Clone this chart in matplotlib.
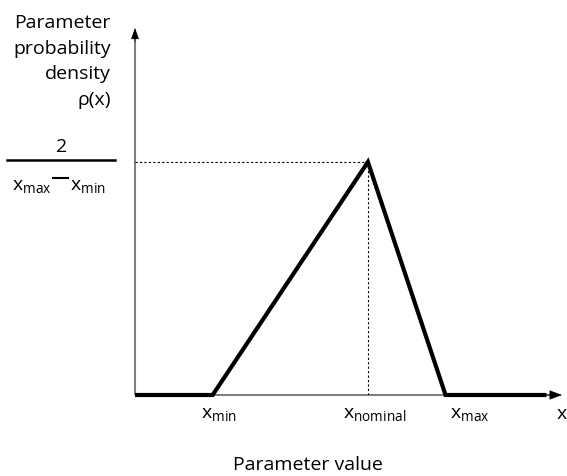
import matplotlib
matplotlib.use("Agg")
import matplotlib.pyplot as plt
from matplotlib.lines import Line2D

plt.rcParams['font.family'] = ['Open Sans', 'DejaVu Sans']
plt.rcParams['mathtext.fontset'] = 'custom'
plt.rcParams['mathtext.rm'] = 'Open Sans'
plt.rcParams['mathtext.it'] = 'Open Sans'

# Data (abstract units)
x_points = [0, 1, 3, 4, 5.3]          # axis start, x_min, x_nominal, x_max, end
density = [0, 0, 2 / 3, 0, 0]         # triangular pdf, peak = 2/(x_max - x_min)
tick_pos = [1, 3, 4]
tick_labels = [r"x$_{\mathrm{min}}$", r"x$_{\mathrm{nominal}}$", r"x$_{\mathrm{max}}$"]
x_end = 5.5
y_top = 1.05
peak_x = 3
peak_y = 2 / 3

# layout: label centre offsets from tick (data units)
label_shift = [0.08, 0.09, 0.31]

W, H = 567, 476
FS = 14
fig = plt.figure(figsize=(W / 100, H / 100), dpi=100)
ax = fig.add_axes([135 / W, (H - 395) / H, (562 - 135) / W, (395 - 28) / H])
ax.set_xlim(0, x_end)
ax.set_ylim(0, y_top)
ax.axis('off')

grey = '#7f7f7f'
# axes lines
ax.plot([0, 0], [0, y_top - 0.03], color=grey, lw=1.5, solid_capstyle='butt', clip_on=False)
ax.plot([0, x_end - 0.1], [0, 0], color=grey, lw=1.5, solid_capstyle='butt', clip_on=False)
# arrow heads
ax.annotate("", xy=(0, y_top), xytext=(0, y_top - 0.04),
            arrowprops=dict(arrowstyle='-|>,head_length=0.7,head_width=0.25',
                            color='black', lw=0.5, shrinkA=0, shrinkB=0),
            annotation_clip=False)
ax.annotate("", xy=(x_end, 0), xytext=(x_end - 0.2, 0),
            arrowprops=dict(arrowstyle='-|>,head_length=0.8,head_width=0.3',
                            color='black', lw=0.5, shrinkA=0, shrinkB=0),
            annotation_clip=False)

# dotted guides
ax.plot([0, peak_x], [peak_y, peak_y], color='black', lw=0.8, ls=(0, (2, 2)))
ax.plot([peak_x, peak_x], [0, peak_y], color='black', lw=0.8, ls=(0, (2, 2)))

# density line
ax.plot(x_points, density, color='black', lw=3, solid_joinstyle='miter',
        solid_capstyle='butt', clip_on=False, zorder=5)

# tick labels
for p, lab, s in zip(tick_pos, tick_labels, label_shift):
    ax.text(p + s, -0.03, lab, ha='center', va='top', fontsize=FS)
ax.text(x_end, -0.03, "x", ha='center', va='top', fontsize=FS)

fig.text(308 / W, 1 - 465 / H, "Parameter value", ha='center', va='center', fontsize=FS)

# y label
fig.text(111 / W, 1 - 14 / H, "Parameter\nprobability\ndensity\n\u03c1(x)",
         ha='right', va='top', fontsize=FS, linespacing=1.55)

# fraction
fig.text(62 / W, 1 - 147 / H, "2", ha='center', va='center', fontsize=FS)
fig.add_artist(Line2D([7 / W, 115 / W], [1 - 160 / H, 1 - 160 / H],
                      color='black', lw=1.8, transform=fig.transFigure))
fig.text(51 / W, 1 - 186 / H, r"x$_{\mathrm{max}}$", ha='right', va='center', fontsize=FS)
fig.add_artist(Line2D([53 / W, 68 / W], [1 - 178 / H, 1 - 178 / H],
                      color='black', lw=1.5, transform=fig.transFigure))
fig.text(70 / W, 1 - 186 / H, r"x$_{\mathrm{min}}$", ha='left', va='center', fontsize=FS)

fig.savefig("out.png", dpi=100)
